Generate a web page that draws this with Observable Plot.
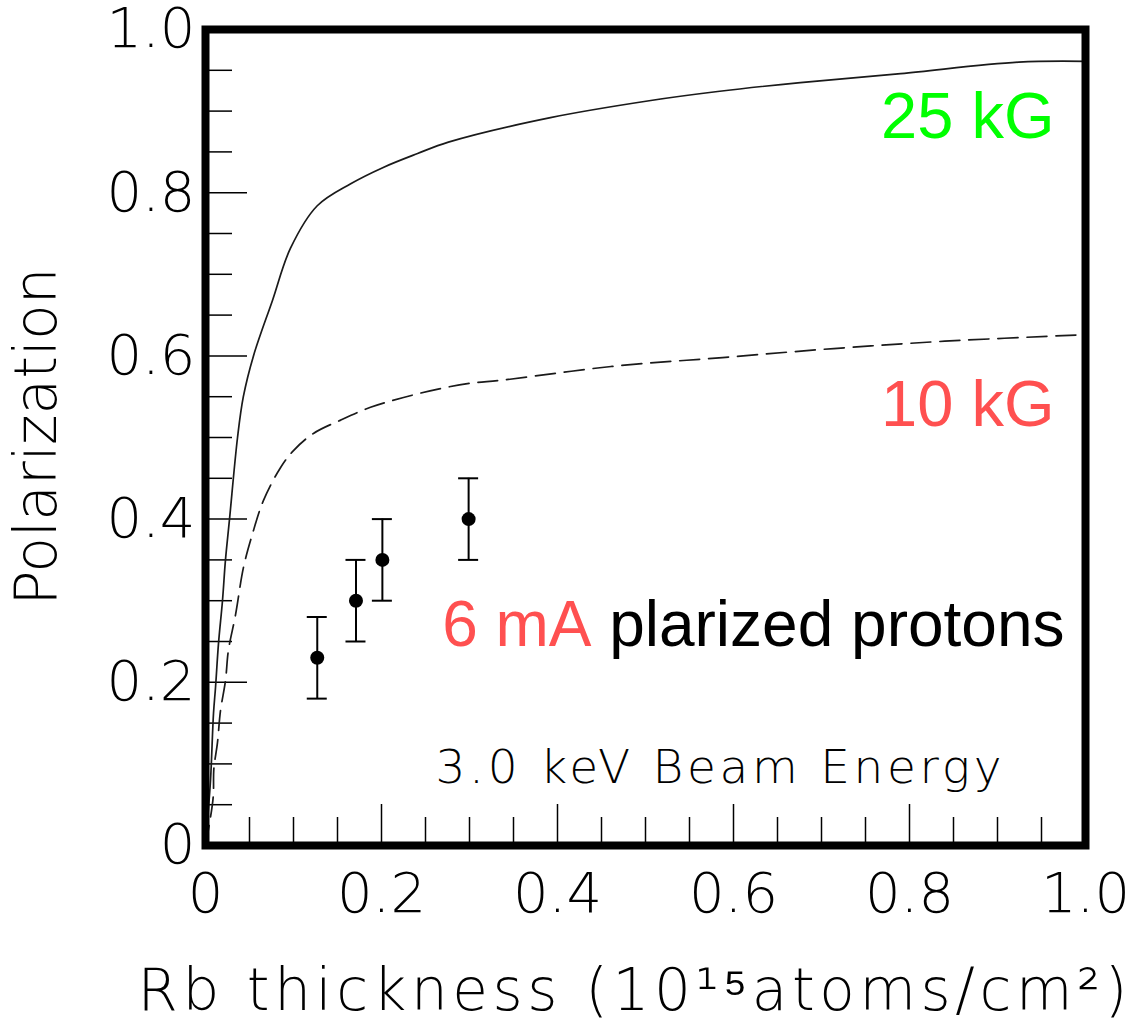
<!DOCTYPE html>
<html><head><meta charset="utf-8">
<script src="https://cdn.jsdelivr.net/npm/d3@7"></script>
<script src="https://cdn.jsdelivr.net/npm/@observablehq/plot@0.6"></script>
<style>body{margin:0;background:#fff}</style>
</head><body><div id="chart"></div>
<script>
// 25 kG curve (solid)
const thickness25 = [0, 0.0023, 0.0057, 0.0091, 0.0114, 0.0148, 0.0193, 0.0227, 0.0273, 0.0364, 0.043, 0.0545, 0.0761, 0.0966, 0.127, 0.165, 0.202, 0.241, 0.276, 0.392, 0.506, 0.582, 0.676, 0.790, 0.924, 1.0];
const pol25       = [0, 0.031, 0.080, 0.162, 0.194, 0.248, 0.300, 0.350, 0.400, 0.500, 0.550, 0.600, 0.668, 0.732, 0.784, 0.811, 0.831, 0.848, 0.862, 0.892, 0.913, 0.924, 0.935, 0.946, 0.960, 0.961];
// 10 kG curve (dashed)
const thickness10 = [0, 0.005, 0.0088, 0.0095, 0.0136, 0.017, 0.0227, 0.026, 0.034, 0.0432, 0.0534, 0.0659, 0.0852, 0.100, 0.1227, 0.153, 0.1875, 0.225, 0.267, 0.3045, 0.335, 0.461, 0.5875, 0.714, 0.840, 1.0];
const pol10       = [0, 0.030, 0.060, 0.094, 0.126, 0.165, 0.202, 0.239, 0.282, 0.341, 0.382, 0.423, 0.463, 0.484, 0.505, 0.521, 0.537, 0.549, 0.560, 0.567, 0.570, 0.587, 0.598, 0.609, 0.618, 0.626];
// measured points (6 mA polarized protons)
const dataThickness = [0.127, 0.171, 0.201, 0.299];
const dataPol = [0.23, 0.30, 0.35, 0.40];
const dataErr = [0.05, 0.05, 0.05, 0.05];
// ticks
const xTicks = [0, 0.2, 0.4, 0.6, 0.8, 1.0];
const xTickLabels = ["0", "0.2", "0.4", "0.6", "0.8", "1.0"];
const yTicks = [0, 0.2, 0.4, 0.6, 0.8, 1.0];
const yTickLabels = ["0", "0.2", "0.4", "0.6", "0.8", "1.0"];
const majorInner = [0.2, 0.4, 0.6, 0.8];
const minorTicks = [0.05, 0.1, 0.15, 0.25, 0.3, 0.35, 0.45, 0.5, 0.55, 0.65, 0.7, 0.75, 0.85, 0.9, 0.95];
// texts
const xTitle = ["Rb thickness (10¹⁵atoms/cm²)"];
const yTitle = ["Polarization"];
const energyNote = ["3.0 keV Beam Energy"];
const label25 = ["25 kG"];
const label10 = ["10 kG"];
const labelCurrent = ["6 mA"];
const labelBeam = ["plarized protons"];

const W = 1138, H = 1023, mL = 205, mR = 53, mT = 29, mB = 178;
const plotW = W - mL - mR, plotH = H - mT - mB;

const solid = thickness25.map((t, i) => ({t, p: pol25[i]}));
const dashed = thickness10.map((t, i) => ({t, p: pol10[i]}));
const points = dataThickness.map((t, i) => ({t, p: dataPol[i], lo: dataPol[i] - dataErr[i], hi: dataPol[i] + dataErr[i]}));

const thin = "DejaVu Sans, sans-serif";
const arial = "Liberation Sans, Arial, sans-serif";

const chart = Plot.plot({
  width: W, height: H,
  marginLeft: mL, marginRight: mR, marginTop: mT, marginBottom: mB,
  x: {domain: [0, 1]},
  y: {domain: [0, 1]},
  style: {background: "white", fontFamily: thin, color: "black"},
  marks: [
    Plot.tickX(minorTicks, {x: d => d, insetTop: plotH - 28, stroke: "black", strokeWidth: 1.5}),
    Plot.tickX(majorInner, {x: d => d, insetTop: plotH - 41, stroke: "black", strokeWidth: 1.5}),
    Plot.tickY(minorTicks, {y: d => d, insetRight: plotW - 27, stroke: "black", strokeWidth: 1.5}),
    Plot.tickY(majorInner, {y: d => d, insetRight: plotW - 42, stroke: "black", strokeWidth: 1.5}),
    Plot.axisX({ticks: xTicks, tickFormat: d => xTickLabels[xTicks.indexOf(d)], tickSize: 0, tickPadding: 27, fontSize: 56, fontWeight: 200, fontFamily: thin, label: null}),
    Plot.axisY({ticks: yTicks, tickFormat: d => yTickLabels[yTicks.indexOf(d)], tickSize: 0, tickPadding: 10, fontSize: 56, fontWeight: 200, fontFamily: thin, label: null}),
    Plot.line(solid, {x: "t", y: "p", stroke: "#1a1a1a", strokeWidth: 1.7, curve: "catmull-rom"}),
    Plot.line(dashed, {x: "t", y: "p", stroke: "#1a1a1a", strokeWidth: 1.7, strokeDasharray: "20,9", curve: "catmull-rom"}),
    Plot.ruleX(points, {x: "t", y1: "lo", y2: "hi", stroke: "black", strokeWidth: 2}),
    Plot.ruleY(points, {y: "hi", x1: "t", x2: "t", insetLeft: -10, insetRight: -10, stroke: "black", strokeWidth: 2}),
    Plot.ruleY(points, {y: "lo", x1: "t", x2: "t", insetLeft: -10, insetRight: -10, stroke: "black", strokeWidth: 2}),
    Plot.dot(points, {x: "t", y: "p", r: 7, fill: "black", stroke: null}),
    Plot.frame({stroke: "black", strokeWidth: 8}),
    Plot.text(label25, {text: d => d, frameAnchor: "top-right", textAnchor: "end", lineAnchor: "bottom", dx: -31, dy: 108, fill: "#00ff00", fontSize: 65, fontFamily: arial}),
    Plot.text(label10, {text: d => d, frameAnchor: "top-right", textAnchor: "end", lineAnchor: "bottom", dx: -31, dy: 396, fill: "#ff5050", fontSize: 65, fontFamily: arial}),
    Plot.text(labelBeam, {text: d => d, frameAnchor: "top-right", textAnchor: "end", lineAnchor: "bottom", dx: -21, dy: 616, fill: "black", fontSize: 64, fontFamily: arial}),
    Plot.text(labelCurrent, {text: d => d, frameAnchor: "top-right", textAnchor: "end", lineAnchor: "bottom", dx: -494, dy: 616, fill: "#ff5050", fontSize: 64, fontFamily: arial}),
    Plot.text(energyNote, {text: d => d, frameAnchor: "bottom-left", textAnchor: "start", lineAnchor: "bottom", dx: 230, dy: -63, fill: "black", fontSize: 47, fontWeight: 200, fontFamily: thin}),
    Plot.text(xTitle, {text: d => d, frameAnchor: "bottom", textAnchor: "middle", lineAnchor: "bottom", dx: -13, dy: 164, fill: "black", fontSize: 58, fontWeight: 200, fontFamily: thin}),
    Plot.text(yTitle, {text: d => d, frameAnchor: "left", textAnchor: "middle", lineAnchor: "bottom", rotate: -90, dx: -150, dy: -1, fill: "black", fontSize: 58, fontWeight: 200, fontFamily: thin})
  ]
});

const sel = d3.select(chart);
function stretch(str, len) {
  sel.selectAll("text").filter(function() { return this.textContent === str; })
    .attr("textLength", len).attr("lengthAdjust", "spacing");
}
stretch(xTitle[0], 990);
stretch(energyNote[0], 566);
stretch(yTitle[0], 338);
document.getElementById("chart").appendChild(chart);
</script>
</body></html>
